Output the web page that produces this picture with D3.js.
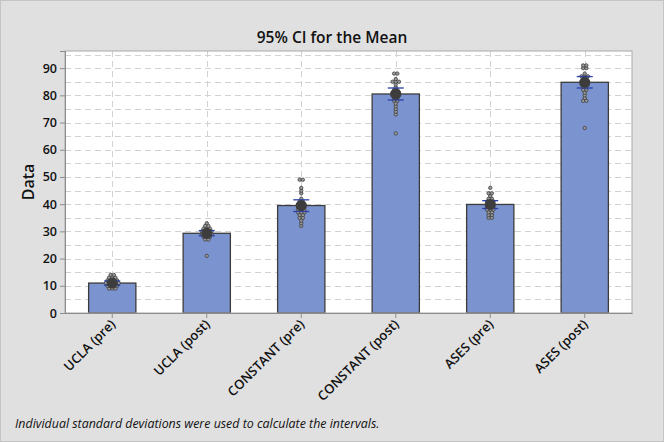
<!DOCTYPE html>
<html>
<head>
<meta charset="utf-8">
<script src="https://cdn.jsdelivr.net/npm/d3@7"></script>
<style>
  html, body { margin: 0; padding: 0; background: #e0e0e0; }
  svg { display: block; }
  text { font-family: "Open Sans", "Noto Sans", sans-serif; fill: #111; }
</style>
</head>
<body>
<svg id="chart" width="664" height="442"></svg>
<script>
const categories = ["UCLA (pre)", "UCLA (post)", "CONSTANT (pre)", "CONSTANT (post)", "ASES (pre)", "ASES (post)"];
const means  = [11.0, 29.3, 39.5, 80.5, 39.9, 84.8];
const ciLow  = [10.2, 28.4, 37.3, 78.3, 38.4, 82.7];
const ciHigh = [11.8, 30.3, 41.6, 82.7, 41.3, 86.9];

const uclaPre     = [9,9,9,10,10,10,10,11,11,11,11,11,12,12,12,12,13,13,13,14,14];
const uclaPost    = [21,27,27,28,28,28,29,29,29,29,30,30,30,30,31,31,31,32,32,33];
const constantPre = [32,33,34,35,35,36,36,37,37,37,38,38,38,39,39,39,40,40,40,41,41,42,44,45,46,49,49];
const constantPost= [66,73,74,75,76,77,78,78,79,79,80,80,80,81,81,81,82,82,83,84,85,85,85,86,88,88];
const asesPre     = [35,35,36,36,37,37,38,38,38,39,39,39,40,40,40,41,41,41,42,42,43,44,44,46];
const asesPost    = [68,78,78,79,80,81,82,82,83,83,84,84,84,85,85,85,86,86,87,87,87,88,90,90,91,91];
const individual  = [uclaPre, uclaPost, constantPre, constantPost, asesPre, asesPost];

const yTicks = [0, 10, 20, 30, 40, 50, 60, 70, 80, 90];
const yGrid  = [5, 10, 15, 20, 25, 30, 35, 40, 45, 50, 55, 60, 65, 70, 75, 80, 85, 90, 95];

const W = 664, H = 442;
const m = { left: 65, right: 32, top: 51, bottom: 129 };
const svg = d3.select("#chart");

// outer frame
svg.append("rect").attr("x", 0.5).attr("y", 0.5).attr("width", W - 1).attr("height", H - 1)
  .attr("fill", "#e0e0e0").attr("stroke", "#c4c4c4");

const x = d3.scaleBand().domain(categories).range([m.left, W - m.right])
  .paddingInner(0.5).paddingOuter(0.25);
const y = d3.scaleLinear().domain([0, 96.3]).range([H - m.bottom, m.top]);

// plot background
svg.append("rect").attr("x", m.left).attr("y", m.top)
  .attr("width", W - m.left - m.right).attr("height", H - m.top - m.bottom)
  .attr("fill", "#ffffff");

// gridlines
const grid = svg.append("g").attr("stroke", "#d2d2d2").attr("stroke-dasharray", "6,4").attr("stroke-width", 1);
grid.selectAll("line.h").data(yGrid).join("line")
  .attr("x1", m.left).attr("x2", W - m.right)
  .attr("y1", d => Math.round(y(d)) + 0.5).attr("y2", d => Math.round(y(d)) + 0.5);
grid.selectAll("line.v").data(categories).join("line")
  .attr("x1", d => Math.round(x(d) + x.bandwidth() / 2) + 0.5)
  .attr("x2", d => Math.round(x(d) + x.bandwidth() / 2) + 0.5)
  .attr("y1", m.top).attr("y2", H - m.bottom);

// bars
svg.append("g").selectAll("rect").data(categories).join("rect")
  .attr("x", d => x(d)).attr("width", x.bandwidth())
  .attr("y", (d, i) => y(means[i])).attr("height", (d, i) => y(0) - y(means[i]))
  .attr("fill", "#7b93cf").attr("stroke", "#3c3c3c").attr("stroke-width", 1.3);

// individual points
const pts = svg.append("g");
categories.forEach((c, i) => {
  const cx = x(c) + x.bandwidth() / 2;
  const groups = d3.group(individual[i], v => v);
  groups.forEach((arr, v) => {
    const n = arr.length;
    arr.forEach((_, k) => {
      pts.append("circle")
        .attr("cx", cx + (k - (n - 1) / 2) * 3.2)
        .attr("cy", y(v))
        .attr("r", 1.7)
        .attr("fill", "#9a9a9a")
        .attr("stroke", "#3e3e3e")
        .attr("stroke-width", 0.8);
    });
  });
});

// confidence intervals
const ci = svg.append("g").attr("stroke", "#2b3fa6").attr("stroke-width", 1.3);
categories.forEach((c, i) => {
  const cx = x(c) + x.bandwidth() / 2;
  ci.append("line").attr("x1", cx).attr("x2", cx).attr("y1", y(ciLow[i])).attr("y2", y(ciHigh[i]));
  ci.append("line").attr("x1", cx - 8).attr("x2", cx + 8).attr("y1", y(ciLow[i])).attr("y2", y(ciLow[i]));
  ci.append("line").attr("x1", cx - 8).attr("x2", cx + 8).attr("y1", y(ciHigh[i])).attr("y2", y(ciHigh[i]));
});

// mean markers
svg.append("g").selectAll("circle").data(categories).join("circle")
  .attr("cx", d => x(d) + x.bandwidth() / 2)
  .attr("cy", (d, i) => y(means[i]))
  .attr("r", 5.5).attr("fill", "#3d3d3d");

// plot border (top/right)
svg.append("rect").attr("x", m.left).attr("y", m.top)
  .attr("width", W - m.left - m.right).attr("height", H - m.top - m.bottom)
  .attr("fill", "none").attr("stroke", "#a8a8a8").attr("stroke-width", 1);

// y axis
const yAxis = svg.append("g").attr("transform", `translate(${m.left},0)`)
  .call(d3.axisLeft(y).tickValues(yTicks).tickSize(5).tickPadding(3));
yAxis.select(".domain").attr("stroke", "#8c8c8c");
yAxis.selectAll(".tick line").attr("stroke", "#8c8c8c");
yAxis.selectAll("text").style("font-size", "12.5px").style("font-weight", "600").attr("fill", "#1a1a1a");

// x axis
const xAxis = svg.append("g").attr("transform", `translate(0,${H - m.bottom})`)
  .call(d3.axisBottom(x).tickSize(5).tickSizeOuter(0));
xAxis.select(".domain").attr("stroke", "#8c8c8c");
xAxis.selectAll(".tick line").attr("stroke", "#8c8c8c");
xAxis.selectAll("text")
  .style("font-size", "13px").style("font-weight", "600").attr("fill", "#1a1a1a")
  .attr("text-anchor", "end")
  .attr("dy", null).attr("y", null)
  .attr("transform", "translate(4,12) rotate(-45)");

// title
svg.append("text").attr("x", W / 2).attr("y", 43).attr("text-anchor", "middle")
  .style("font-size", "15.5px").style("font-weight", "600").text("95% CI for the Mean");

// y label
svg.append("text").attr("transform", `translate(34,${(m.top + H - m.bottom) / 2}) rotate(-90)`)
  .attr("text-anchor", "middle").style("font-size", "16px").style("font-weight", "600").text("Data");

// footnote
svg.append("text").attr("x", 15).attr("y", 428)
  .style("font-size", "12.4px").style("font-style", "italic")
  .text("Individual standard deviations were used to calculate the intervals.");
</script>
</body>
</html>
